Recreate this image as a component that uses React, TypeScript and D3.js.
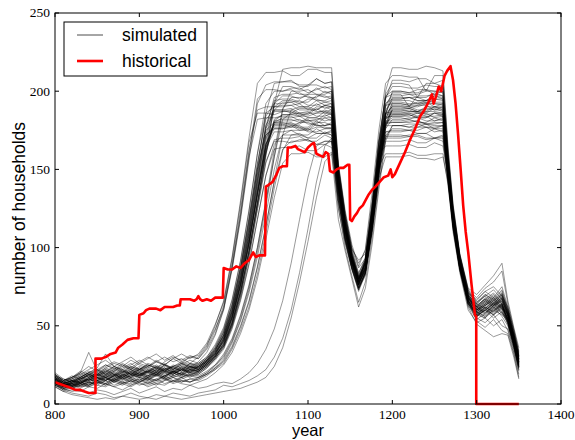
import React from 'react';
import * as d3 from 'd3';

const X_TICKS = [800, 900, 1000, 1100, 1200, 1300, 1400];
const Y_TICKS = [0, 50, 100, 150, 200, 250];

// Simulated runs, split into phases (years per phase)
const BASE_YEARS = [800, 810, 820, 830, 840, 850, 860, 870, 880, 890, 900, 910, 920, 930, 940, 950, 960, 970, 980, 990];
const RISE_YEARS = [1000, 1010, 1020, 1030, 1040, 1050, 1060, 1070, 1080, 1090, 1100, 1110, 1120, 1128];
const VALLEY_YEARS = [1136, 1144, 1152, 1160, 1168, 1176, 1184, 1192, 1200];
const FALL_YEARS = [1210, 1220, 1230, 1240, 1250, 1260, 1266, 1272, 1280, 1290];
const TAIL_YEARS = [1300, 1310, 1320, 1330, 1337, 1344, 1350];

const SIM_BASE = [
  [15,12,13,16,18,15,17,19,16,18,20,17,19,21,18,20,22,21,25,31],
  [17,13,11,14,16,19,16,14,17,20,18,16,15,18,21,19,17,20,24,29],
  [14,11,14,17,20,22,19,23,21,24,22,25,23,21,24,26,23,27,33,44],
  [12,10,12,11,14,13,16,15,13,16,14,17,19,16,18,17,20,19,23,30],
  [19,15,16,20,33,21,25,22,26,23,21,24,27,25,22,26,24,23,27,34],
  [16,12,10,12,11,14,12,15,13,11,14,16,13,15,17,14,16,15,18,22],
  [14,12,15,13,17,20,18,21,19,17,22,20,18,23,21,19,24,22,27,33],
  [18,14,17,19,22,25,28,24,27,30,26,29,32,28,31,27,30,29,36,47],
  [13,9,10,13,12,15,17,14,18,16,19,17,21,18,20,23,19,21,26,32],
  [16,13,12,15,19,17,20,18,22,19,17,21,19,23,20,24,22,25,29,36],
  [11,8,9,8,11,10,13,11,9,12,14,11,13,12,15,13,12,14,16,20],
  [17,14,16,18,15,19,22,20,18,21,24,22,20,25,23,21,26,24,28,35],
  [15,12,13,12,15,17,14,16,19,17,15,18,20,17,19,22,20,21,25,30],
  [13,10,8,9,7,9,8,6,8,10,7,9,11,8,10,9,12,10,11,13],
  [18,15,17,21,19,16,18,21,24,22,19,21,23,20,22,25,23,24,28,33],
  [16,13,15,18,21,19,23,26,24,28,25,23,27,30,27,29,26,30,37,50],
  [14,11,13,15,14,17,19,17,15,18,20,18,22,19,21,18,22,23,27,33],
  [12,10,11,13,11,13,15,12,14,13,16,14,12,15,17,15,14,16,19,23],
  [20,16,14,17,20,23,32,24,21,19,22,25,23,26,22,25,28,26,30,37],
  [13,11,12,14,16,14,17,15,18,16,14,17,15,18,20,17,19,20,24,29],
  [12,9,7,6,5,7,6,4,5,7,5,4,6,5,7,6,5,7,8,9],
  [17,13,15,17,20,18,21,24,22,20,23,21,25,22,24,27,25,26,30,38],
  [16,14,12,14,13,16,18,16,19,17,20,23,21,18,21,19,22,21,25,31],
  [14,11,12,10,13,15,13,16,14,12,15,13,16,18,15,17,14,17,20,24],
  [15,12,14,16,18,21,19,17,20,22,19,21,18,21,24,21,23,22,26,32],
  [18,14,16,19,17,20,23,21,25,22,26,24,28,25,29,26,30,31,38,48],
  [13,10,12,14,17,15,18,16,19,22,20,18,21,24,22,20,23,24,28,34],
  [17,13,11,13,16,14,12,15,17,14,16,13,15,17,14,16,18,17,20,25],
  [14,13,15,13,16,19,17,20,18,21,19,17,20,23,20,22,21,23,27,32],
  [11,8,6,5,4,3,4,3,5,4,3,4,3,5,4,3,4,5,6,7],
  [19,15,17,20,18,22,25,23,20,24,22,26,24,21,25,23,26,25,29,36],
  [16,12,13,15,14,12,15,18,16,14,17,15,19,16,18,20,18,19,23,28],
  [15,13,15,14,12,15,17,14,16,19,17,15,18,16,14,17,19,18,21,25],
  [13,11,14,16,15,18,21,19,17,20,18,22,20,17,21,24,22,21,25,30],
  [18,14,13,16,19,17,15,18,21,19,23,20,22,25,21,23,20,24,28,35],
  [16,12,14,13,16,19,17,15,18,21,18,20,23,21,19,22,24,22,26,31],
  [16,14,15,17,15,18,20,18,21,19,22,20,24,21,19,23,21,24,27,33],
  [14,10,11,13,16,14,16,19,17,15,18,21,19,22,20,18,21,22,26,31],
  [17,15,18,16,19,22,20,24,22,25,28,25,23,27,30,28,31,29,35,45],
  [15,11,13,12,14,17,15,18,16,19,17,16,19,17,21,19,18,21,25,30],
  [13,11,10,12,14,12,11,14,12,15,13,12,14,16,13,15,14,16,19,23],
  [18,16,14,17,20,18,21,19,23,26,22,24,21,25,23,26,24,25,29,35],
  [12,9,11,14,12,15,13,16,14,17,19,16,18,20,17,19,21,20,24,29],
  [19,15,17,20,24,21,24,27,25,23,27,30,27,25,29,32,29,32,39,51],
  [16,13,15,14,17,19,22,19,17,20,18,21,24,22,19,22,25,23,27,32],
  [14,12,13,11,12,14,13,11,13,15,12,14,16,13,15,14,16,17,19,22],
  [17,14,12,15,18,16,19,22,20,18,21,19,22,20,23,21,24,23,28,34],
  [15,13,14,16,19,17,15,18,20,23,21,18,20,22,24,22,20,22,26,31],
];

const SIM_RISE = [
  [41,56,77,103,134,162,181,185,185,184,184,186,186,185],
  [36,49,67,90,118,146,166,172,172,173,170,170,174,172],
  [60,86,118,156,192,204,206,206,207,203,203,208,205,206],
  [39,53,74,101,133,165,188,193,193,194,191,191,193,192],
  [45,62,86,116,150,175,180,180,179,179,182,178,178,180],
  [28,37,50,66,88,114,142,163,168,168,169,166,166,168],
  [42,58,80,108,142,176,196,198,198,199,196,196,200,198],
  [63,90,124,162,188,190,190,191,191,192,188,188,191,190],
  [42,57,79,106,138,166,176,176,177,177,174,174,176,176],
  [47,64,88,119,154,182,188,188,189,186,186,190,190,188],
  [25,33,45,60,80,105,132,154,160,160,161,158,158,161],
  [44,60,83,112,146,178,194,195,195,193,193,197,197,195],
  [37,51,71,97,128,160,180,183,183,184,181,181,185,183],
  [14,13,16,20,26,35,48,66,90,118,145,165,168,168],
  [40,55,76,103,135,166,178,178,179,176,176,180,180,178],
  [66,94,130,170,205,212,212,213,210,210,214,214,212,212],
  [43,59,81,110,144,176,187,187,188,185,185,189,186,187],
  [29,39,53,71,94,121,150,172,175,175,176,173,173,175],
  [48,66,91,123,160,192,200,200,201,198,198,202,199,200],
  [36,50,69,94,124,154,169,170,170,171,168,168,172,170],
  [12,11,13,15,18,22,30,42,60,84,112,142,165,170],
  [49,67,92,124,160,186,190,190,191,188,188,192,189,190],
  [38,52,72,98,129,161,180,181,181,182,179,179,183,181],
  [31,41,56,75,100,130,162,189,196,196,197,194,194,196],
  [40,55,76,103,135,164,174,174,175,172,172,176,173,174],
  [61,87,120,158,182,183,183,184,184,181,181,182,183,183],
  [44,60,84,114,150,186,205,206,206,204,204,208,205,206],
  [32,42,57,76,100,129,158,182,186,186,187,184,184,186],
  [41,56,78,106,139,170,179,179,180,177,177,181,178,179],
  [8,9,10,12,14,17,24,36,55,78,104,132,155,160],
  [46,63,87,118,153,184,192,192,193,190,190,194,191,192],
  [35,48,66,89,118,146,163,164,164,165,162,162,166,164],
  [30,40,54,73,97,126,158,188,200,200,201,198,198,200],
  [38,52,72,98,129,160,182,185,185,186,183,183,187,185],
  [43,59,81,110,143,172,177,177,178,175,175,179,176,177],
  [37,50,69,94,125,158,192,214,215,215,216,215,215,215],
  [42,58,80,108,141,172,190,194,194,192,195,195,193,194],
  [38,52,72,97,127,155,168,168,167,169,169,166,168,168],
  [61,88,121,160,195,201,201,200,202,202,199,201,203,201],
  [39,54,75,102,134,164,181,182,182,180,183,183,181,182],
  [27,36,49,65,87,113,143,172,188,190,190,188,191,190],
  [46,63,87,117,150,172,176,176,178,178,175,177,177,176],
  [37,51,71,97,128,162,192,203,203,201,204,204,202,203],
  [65,93,128,167,186,186,185,187,187,184,186,186,188,186],
  [41,56,77,104,136,166,179,179,177,180,180,178,178,179],
  [26,35,47,62,83,109,138,162,172,172,170,173,173,172],
  [44,61,84,113,147,178,188,188,186,189,189,187,187,188],
  [40,55,76,103,135,168,192,197,197,195,198,198,196,197],
];

const SIM_VALLEY = [
  [142,113,93,79,90,121,158,186,190],
  [135,106,87,74,85,114,150,176,182],
  [152,122,100,90,98,130,170,196,198],
  [145,115,94,80,87,116,152,174,175],
  [138,111,92,79,92,126,166,198,205],
  [130,104,86,72,83,110,145,178,188],
  [148,117,95,81,89,119,155,170,170],
  [143,114,93,78,91,124,162,185,185],
  [137,109,90,77,86,117,154,186,195],
  [146,116,94,80,88,118,152,160,160],
  [126,100,82,65,78,106,140,170,178],
  [147,117,95,80,93,127,167,197,200],
  [140,112,92,78,87,117,154,182,186],
  [125,103,86,73,84,113,150,182,192],
  [139,111,91,77,86,115,150,168,168],
  [154,124,102,88,99,135,175,205,210],
  [143,114,93,79,88,119,156,180,180],
  [134,107,88,75,84,112,148,182,193],
  [151,121,99,92,96,124,162,184,184],
  [133,106,87,74,82,110,145,172,176],
  [130,106,89,76,88,120,160,200,215],
  [144,114,93,79,90,122,160,192,197],
  [138,110,90,76,84,112,147,172,172],
  [147,117,95,80,86,114,150,180,188],
  [136,108,89,75,83,110,144,158,158],
  [141,113,92,78,91,125,165,191,192],
  [151,120,97,82,92,122,160,181,181],
  [142,113,92,77,85,113,149,185,200],
  [139,111,91,77,87,118,156,186,187],
  [118,98,80,62,74,102,137,168,178],
  [145,115,94,80,91,123,162,192,195],
  [130,105,87,74,84,114,152,180,183],
  [150,119,96,81,90,121,160,195,207],
  [141,113,92,78,87,116,152,174,174],
  [138,110,90,76,86,117,155,185,190],
  [153,122,99,87,93,123,160,165,165],
  [146,116,95,81,90,121,158,188,194],
  [131,105,87,73,84,113,150,178,185],
  [149,119,97,83,94,127,167,196,203],
  [139,111,91,77,89,120,158,179,180],
  [143,114,93,78,85,112,146,176,189],
  [136,109,90,76,88,119,157,171,171],
  [150,120,98,84,92,121,158,190,199],
  [142,113,92,78,92,127,168,186,186],
  [138,110,90,76,86,116,152,178,178],
  [134,107,88,74,84,112,148,178,191],
  [144,115,94,80,89,120,157,183,184],
  [147,117,96,82,90,118,155,186,196],
];

const SIM_FALL = [
  [190,190,188,188,190,190,152,119,91,68],
  [182,183,183,181,181,182,146,114,87,65],
  [198,190,197,197,198,197,158,124,94,71],
  [175,175,177,177,174,175,148,117,89,66],
  [205,204,196,205,205,203,160,125,95,72],
  [188,187,187,189,188,188,145,113,86,63],
  [170,171,171,169,170,170,143,115,88,67],
  [185,185,183,183,186,185,153,121,92,70],
  [195,196,196,194,195,195,150,118,89,66],
  [160,161,159,159,160,160,140,112,86,64],
  [178,177,177,179,178,178,141,110,84,60],
  [200,199,199,201,200,200,157,123,93,70],
  [186,187,187,185,186,186,149,117,89,67],
  [192,191,191,193,192,192,147,115,87,64],
  [168,169,167,167,170,168,145,116,89,68],
  [210,209,209,200,210,210,163,127,96,73],
  [180,181,181,179,180,180,150,119,91,69],
  [193,192,192,194,193,193,151,118,88,65],
  [184,185,183,183,186,184,155,123,94,72],
  [176,175,175,177,176,176,144,113,86,63],
  [215,214,214,216,215,213,165,128,96,74],
  [197,198,196,196,199,197,154,120,90,68],
  [172,171,173,173,170,172,146,116,88,66],
  [188,189,187,187,190,188,156,124,95,73],
  [158,159,157,157,156,158,142,114,87,65],
  [192,191,193,193,190,192,150,117,88,66],
  [181,182,180,180,183,181,152,121,92,70],
  [200,199,201,201,198,200,155,121,91,69],
  [187,188,186,186,189,187,148,116,87,64],
  [178,177,179,179,176,178,143,112,85,62],
  [195,196,194,194,197,195,156,122,92,69],
  [183,182,184,184,181,183,147,115,87,65],
  [207,206,208,208,205,207,161,126,95,71],
  [174,175,173,173,176,174,147,117,89,67],
  [190,189,191,191,188,190,151,119,90,68],
  [165,166,164,164,167,165,144,115,88,66],
  [194,194,192,192,195,194,153,120,91,69],
  [185,186,186,184,184,185,147,115,87,64],
  [203,202,202,204,203,203,159,124,94,71],
  [180,180,181,179,179,180,149,118,90,68],
  [189,189,187,190,190,189,150,117,88,66],
  [171,172,172,170,170,171,145,116,89,67],
  [199,198,198,200,200,199,157,123,93,70],
  [186,186,184,187,187,186,151,119,90,68],
  [178,179,179,177,177,178,146,115,88,66],
  [191,190,190,192,192,191,152,119,89,66],
  [184,184,186,186,183,184,150,118,90,68],
  [196,196,194,194,197,196,156,122,92,69],
];

const SIM_TAIL = [
  [60,63,66,61,55,41,27],
  [57,55,61,64,52,38,24],
  [64,70,66,72,60,45,31],
  [58,61,57,63,54,39,25],
  [66,72,75,69,62,47,33],
  [54,58,62,56,50,36,22],
  [61,57,63,67,57,42,28],
  [63,67,71,65,59,44,30],
  [57,62,58,64,53,37,23],
  [59,56,62,58,55,40,26],
  [52,55,50,54,47,33,19],
  [62,68,64,70,58,43,29],
  [60,64,68,63,57,41,27],
  [56,60,55,59,51,37,24],
  [61,65,62,66,56,42,28],
  [68,74,78,85,64,48,34],
  [59,63,67,62,55,40,26],
  [55,52,57,50,48,35,21],
  [64,69,65,71,60,45,31],
  [56,60,64,58,52,38,24],
  [70,76,82,90,66,49,36],
  [62,58,64,68,57,43,29],
  [58,62,59,65,54,39,25],
  [65,70,67,73,61,46,32],
  [53,49,54,47,45,32,17],
  [60,64,61,67,56,41,27],
  [63,59,65,61,58,44,30],
  [61,66,70,64,57,42,28],
  [57,61,65,60,53,38,24],
  [51,47,43,45,44,30,16],
  [62,67,63,69,58,43,29],
  [58,55,60,63,53,39,25],
  [67,72,68,75,62,47,33],
  [59,63,60,57,54,40,26],
  [60,65,69,64,56,41,27],
  [56,61,57,62,52,38,24],
  [61,66,62,68,57,42,28],
  [57,60,64,59,53,38,24],
  [65,69,73,67,60,45,31],
  [59,56,60,64,54,40,26],
  [58,62,59,63,53,38,23],
  [60,64,68,62,56,41,27],
  [63,67,64,70,59,44,30],
  [62,58,63,66,57,43,29],
  [56,60,57,61,51,36,22],
  [59,63,67,61,55,40,26],
  [62,66,63,68,58,43,29],
  [64,61,66,70,59,44,31],
];

// Historical record
const HIST_YEARS = [
  800, 805, 810, 815, 820, 825, 830, 835, 840, 848, 848, 855, 860, 866, 872, 875, 880, 886, 893, 899,
  900, 905, 908, 912, 920, 925, 930, 940, 945, 948, 949, 960, 965, 968, 970, 972, 975, 980, 985, 990, 999,
  1000, 1005, 1010, 1015, 1020, 1025, 1030, 1035, 1038, 1042, 1049,
  1050, 1053, 1058, 1062, 1066, 1070, 1075, 1076, 1080, 1085, 1088, 1092, 1096, 1100, 1104, 1107, 1110, 1114, 1118, 1121, 1124,
  1126, 1130, 1134, 1138, 1142, 1147, 1149,
  1150, 1152, 1155, 1158, 1161, 1165, 1168, 1172, 1176, 1180, 1185, 1190, 1195, 1198, 1200, 1203,
  1209, 1215, 1221, 1227, 1233, 1238, 1242, 1247, 1249, 1252, 1255, 1258, 1262, 1265, 1269,
  1272, 1275, 1278, 1281, 1284, 1287, 1290, 1294, 1298, 1299.5, 1299.5, 1350,
];
const HIST_VALUES = [
  14, 13, 12, 11, 10, 9, 9, 8, 7, 7, 29, 29, 30, 32, 33, 36, 38, 41, 42, 42,
  57, 58, 60, 61, 61, 60, 62, 62, 63, 63, 67, 67, 66, 67, 69, 67, 66, 67, 66, 68, 68,
  87, 86, 86, 88, 87, 90, 92, 97, 94, 95, 95,
  139, 140, 142, 146, 151, 152, 152, 164, 164, 165, 163, 162, 161, 164, 166, 167, 160, 159, 158, 161, 160,
  149, 148, 150, 151, 151, 153, 153,
  118, 117, 120, 122, 125, 127, 130, 134, 137, 139, 142, 145, 146, 150, 145, 147,
  154, 161, 169, 176, 184, 188, 192, 198, 192, 197, 203, 200, 210, 213, 216,
  207, 192, 172, 150, 127, 110, 97, 76, 57, 56, 0, 0,
];

const LEGEND_LABELS = ['simulated', 'historical'];

const W = 575;
const H = 440;
const PLOT = { left: 55, right: 561, top: 13, bottom: 404 };

export default function App() {
  const x = d3.scaleLinear().domain([800, 1400]).range([PLOT.left, PLOT.right]);
  const y = d3.scaleLinear().domain([0, 250]).range([PLOT.bottom, PLOT.top]);
  const line = d3
    .line<[number, number]>()
    .x((d) => x(d[0]))
    .y((d) => y(d[1]));

  const simYears = [...BASE_YEARS, ...RISE_YEARS, ...VALLEY_YEARS, ...FALL_YEARS, ...TAIL_YEARS];
  const runs = SIM_BASE.map((b, i) => {
    const vals = [...b, ...SIM_RISE[i], ...SIM_VALLEY[i], ...SIM_FALL[i], ...SIM_TAIL[i]];
    return vals.map((v, j) => [simYears[j], v] as [number, number]);
  });
  const hist = HIST_YEARS.map((yr, i) => [yr, HIST_VALUES[i]] as [number, number]);

  const serif = '"Liberation Serif", "DejaVu Serif", serif';
  const sans = '"Liberation Sans", Arial, sans-serif';
  const tickLen = 4;

  return (
    <svg
      width={W}
      height={H}
      viewBox={`0 0 ${W} ${H}`}
      style={{ position: 'absolute', left: 0, top: 0, background: '#fff' }}
    >
      <rect x={0} y={0} width={W} height={H} fill="#fff" />
      <g>
        {runs.map((r, i) => (
          <path key={i} d={line(r) || ''} fill="none" stroke="#000" strokeOpacity={0.4} strokeWidth={1} />
        ))}
      </g>
      <path d={line(hist) || ''} fill="none" stroke="#ff0000" strokeWidth={2.6} strokeLinejoin="round" />

      {/* frame */}
      <rect
        x={PLOT.left}
        y={PLOT.top}
        width={PLOT.right - PLOT.left}
        height={PLOT.bottom - PLOT.top}
        fill="none"
        stroke="#000"
        strokeWidth={1}
      />
      {/* x ticks */}
      {X_TICKS.map((t) => (
        <g key={'x' + t}>
          <line x1={x(t)} x2={x(t)} y1={PLOT.bottom} y2={PLOT.bottom - tickLen} stroke="#000" />
          <line x1={x(t)} x2={x(t)} y1={PLOT.top} y2={PLOT.top + tickLen} stroke="#000" />
          <text x={x(t)} y={PLOT.bottom + 14.5} textAnchor="middle" fontFamily={serif} fontSize={13.5} fill="#000">
            {t}
          </text>
        </g>
      ))}
      {/* y ticks */}
      {Y_TICKS.map((t) => (
        <g key={'y' + t}>
          <line x1={PLOT.left} x2={PLOT.left + tickLen} y1={y(t)} y2={y(t)} stroke="#000" />
          <line x1={PLOT.right} x2={PLOT.right - tickLen} y1={y(t)} y2={y(t)} stroke="#000" />
          <text x={PLOT.left - 5} y={y(t)} dy="0.33em" textAnchor="end" fontFamily={serif} fontSize={13.5} fill="#000">
            {t}
          </text>
        </g>
      ))}
      {/* axis labels */}
      <text x={(PLOT.left + PLOT.right) / 2} y={435.5} textAnchor="middle" fontFamily={sans} fontSize={16.5} fill="#000">
        year
      </text>
      <text
        transform={`translate(25, ${(PLOT.top + PLOT.bottom) / 2}) rotate(-90)`}
        textAnchor="middle"
        fontFamily={sans}
        fontSize={17.5}
        fill="#000"
      >
        number of households
      </text>

      {/* legend */}
      <rect x={64} y={22} width={143} height={54} fill="#fff" stroke="#000" strokeWidth={1} />
      <line x1={77} x2={103} y1={35} y2={35} stroke="#000" strokeOpacity={0.7} strokeWidth={1} />
      <text x={122} y={35} dy="0.35em" fontFamily={sans} fontSize={17.5} fill="#000">
        {LEGEND_LABELS[0]}
      </text>
      <line x1={77} x2={103} y1={61} y2={61} stroke="#ff0000" strokeWidth={2.6} />
      <text x={122} y={61} dy="0.35em" fontFamily={sans} fontSize={17.5} fill="#000">
        {LEGEND_LABELS[1]}
      </text>
    </svg>
  );
}
